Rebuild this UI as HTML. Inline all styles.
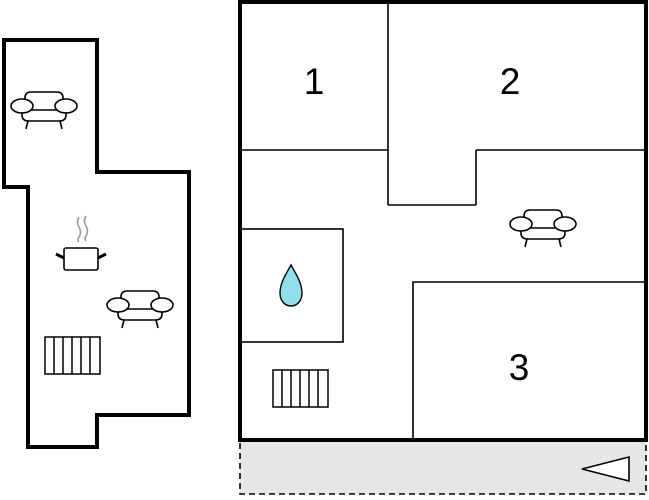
<!DOCTYPE html>
<html><head><style>body{margin:0;background:#fff}svg{display:block}</style></head><body>
<svg width="649" height="500" viewBox="0 0 649 500" xmlns="http://www.w3.org/2000/svg">
<defs>
<g id="sofa" fill="#fff" stroke="#000" stroke-width="1.6">
<path d="M14,15 V7 Q14,1 20,1 H46 Q52,1 52,7 V15"/>
<path d="M11,20 V24 Q11,30 18,30 H48 Q55,30 55,24 V20"/>
<line x1="17" y1="30" x2="15" y2="38"/><line x1="49" y1="30" x2="51" y2="38"/>
<line x1="18" y1="19" x2="48" y2="19"/>
<ellipse cx="11" cy="15" rx="11" ry="7"/><ellipse cx="55" cy="15" rx="11" ry="7"/>
</g>
<g id="rad" fill="#fff" stroke="#000" stroke-width="1.5">
<rect x="0" y="0" width="55" height="37"/>
<line x1="9" y1="0" x2="9" y2="37"/><line x1="18" y1="0" x2="18" y2="37"/><line x1="27" y1="0" x2="27" y2="37"/><line x1="36" y1="0" x2="36" y2="37"/><line x1="45" y1="0" x2="45" y2="37"/>
</g>
</defs>
<path d="M4,40 H97 V172 H189 V415 H97 V447 H28 V187 H4 Z" fill="#fff" stroke="#000" stroke-width="4"/>
<use href="#sofa" x="11" y="91"/>
<use href="#sofa" x="107" y="290"/>
<use href="#rad" x="45" y="337"/>
<path d="M79,217 q-3,5 0,10 q3,5 0,10 q-2,3 0,5 M86,216 q-3,5 0,10 q3,5 0,10 q-2,3 0,5" fill="none" stroke="#999" stroke-width="1.6"/>
<rect x="64" y="248" width="34" height="22" rx="2" fill="#fff" stroke="#000" stroke-width="1.6"/>
<line x1="56" y1="254" x2="64" y2="258" stroke="#000" stroke-width="3"/>
<line x1="106" y1="254" x2="98" y2="258" stroke="#000" stroke-width="3"/>
<rect x="240" y="441" width="406" height="53" fill="#e6e6e6" stroke="#000" stroke-width="1.6" stroke-dasharray="6,4"/>
<rect x="240" y="2" width="406" height="438" fill="#fff" stroke="#000" stroke-width="4"/>
<g stroke="#000" stroke-width="1.6" fill="none">
<line x1="388" y1="2" x2="388" y2="205"/>
<line x1="240" y1="150" x2="388" y2="150"/>
<line x1="388" y1="205" x2="476" y2="205"/>
<line x1="476" y1="205" x2="476" y2="150"/>
<line x1="476" y1="150" x2="646" y2="150"/>
<rect x="240" y="229" width="103" height="113"/>
<path d="M413,440 V282 H646"/>
</g>
<path d="M582,469 L629,457 L629,481 Z" fill="#fff" stroke="#000" stroke-width="1.6"/>
<path d="M291,265 C286,274 280,283 280,293 C280,301 285,306 291,306 C297,306 302,301 302,293 C302,283 296,274 291,265 Z" fill="#8fe0ea" stroke="#000" stroke-width="1.4"/>
<use href="#sofa" x="510" y="209"/>
<use href="#rad" x="273" y="370"/>
<g font-family="Liberation Sans, sans-serif" font-size="37" text-anchor="middle">
<text x="314" y="94">1</text><text x="510" y="94">2</text><text x="519" y="380">3</text>
</g>
</svg>
</body></html>
